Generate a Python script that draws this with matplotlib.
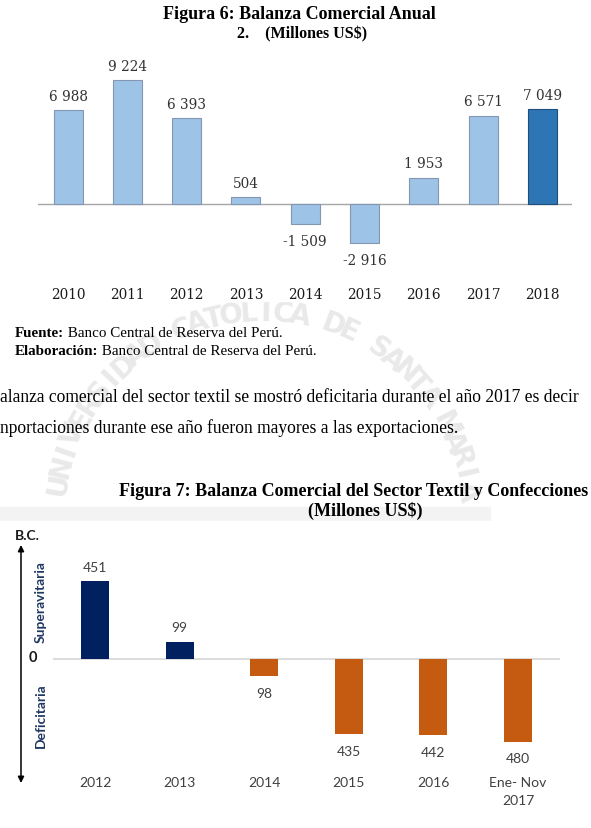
import matplotlib.pyplot as plt
from matplotlib.patches import Rectangle
import numpy as np

W, H = 591, 829

# Figura 6 data
years = ['2010', '2011', '2012', '2013', '2014', '2015', '2016', '2017', '2018']
balanza = [6988, 9224, 6393, 504, -1509, -2916, 1953, 6571, 7049]

# Figura 7 data
periodos = ['2012', '2013', '2014', '2015', '2016', 'Ene- Nov\n2017']
textil = [451, 99, -98, -435, -442, -480]

serif = 'Liberation Serif'
fig = plt.figure(figsize=(W / 100, H / 100), dpi=100)

# background axes in pixel coords (y down), used for page text and watermark
bg = fig.add_axes([0, 0, 1, 1])
bg.set_xlim(0, W)
bg.set_ylim(H, 0)
bg.axis('off')

# faint university seal watermark
wm = 'UNIVERSIDAD CATOLICA DE SANTA MARIA'
cx, cy, r = 262, 520, 207
for ch, a in zip(wm, np.linspace(170, 8, len(wm))):
    t = np.radians(a)
    bg.text(cx + r * np.cos(t), cy - r * np.sin(t), ch, rotation=a - 90,
            ha='center', va='center', fontsize=20, fontweight='bold',
            color='#e9e9e9', family='DejaVu Sans', zorder=1)
bg.add_patch(Rectangle((0, 508), 490, 14, color='#f3f3f3', zorder=1))
# chart images have white backgrounds
bg.add_patch(Rectangle((0, 0), W, 302, color='white', zorder=2))
bg.add_patch(Rectangle((0, 522), W, H - 522, color='white', zorder=2))

# ---- page text ----
bg.text(299, 14, 'Figura 6: Balanza Comercial Anual', ha='center', va='center',
        fontsize=13, fontweight='bold', family=serif, zorder=4)
bg.text(302, 34, '2.    (Millones US$)', ha='center', va='center',
        fontsize=11.5, fontweight='bold', family=serif, zorder=4)

renderer = fig.canvas.get_renderer()


def mixed(x, y, bold, rest, size):
    t = bg.text(x, y, bold, ha='left', va='center', fontsize=size,
                fontweight='bold', family=serif, zorder=4)
    w = t.get_window_extent(renderer).width
    bg.text(x + w, y, ' ' + rest, ha='left', va='center', fontsize=size,
            family=serif, zorder=4)


mixed(15, 333, 'Fuente:', 'Banco Central de Reserva del Perú.', 10.8)
mixed(15, 351, 'Elaboración:', 'Banco Central de Reserva del Perú.', 10.8)

bg.text(0, 397, 'alanza comercial del sector textil se mostró deficitaria durante el año 2017 es decir',
        ha='left', va='center', fontsize=12.65, family=serif, zorder=4)
bg.text(0, 428, 'nportaciones durante ese año fueron mayores a las exportaciones.',
        ha='left', va='center', fontsize=12.65, family=serif, zorder=4)

bg.text(354, 491, 'Figura 7: Balanza Comercial del Sector Textil y Confecciones',
        ha='center', va='center', fontsize=13, fontweight='bold', family=serif, zorder=4)
bg.text(365, 511, '(Millones US$)', ha='center', va='center',
        fontsize=13, fontweight='bold', family=serif, zorder=4)

# ---- Figura 7 side decorations ----
navy = '#1f3864'
bg.text(15, 536, 'B.C.', ha='left', va='center', fontsize=10, fontweight='bold',
        family='Lato', color='#1a1a1a', zorder=4)
bg.annotate('', xy=(21, 546), xytext=(21, 784), zorder=4,
            arrowprops=dict(arrowstyle='<|-|>', color='black', lw=1.1,
                            mutation_scale=9, shrinkA=0, shrinkB=0))
bg.text(41, 602, 'Superavitaria', rotation=90, ha='center', va='center',
        fontsize=10, fontweight='bold', family='Lato', color=navy, zorder=4)
bg.text(41, 716, 'Deficitaria', rotation=90, ha='center', va='center',
        fontsize=10, fontweight='bold', family='Lato', color=navy, zorder=4)
bg.text(33, 658, '0', ha='center', va='center', fontsize=10.5, fontweight='bold',
        family='Lato', color='#1a1a1a', zorder=4)


def axes_px(left, top, right, bottom):
    return fig.add_axes([left / W, 1 - bottom / H, (right - left) / W, (bottom - top) / H])


# ---- Figura 6 chart ----
ax1 = axes_px(38.4, 55, 572, 282)
ax1.patch.set_alpha(0)
x1 = np.arange(len(years))
colors1 = ['#9dc3e6'] * (len(years) - 1) + ['#2e75b6']
edges1 = ['#8497b0'] * (len(years) - 1) + ['#1f4e79']
ax1.bar(x1, balanza, width=0.49, color=colors1, edgecolor=edges1, linewidth=0.8, zorder=2)
ax1.axhline(0, color='#a6a6a6', lw=1, zorder=1)
ax1.set_xlim(-0.5, len(years) - 0.5)
ax1.set_ylim(-(282 - 205) * 74.5, (205 - 55) * 74.5)
for xi, v in zip(x1, balanza):
    lab = f'{v:,}'.replace(',', ' ')
    off = 10.5 if v >= 0 else -12.2
    ax1.annotate(lab, (xi, v), xytext=(0, off), textcoords='offset points',
                 ha='center', va='center', fontsize=9.8, family='DejaVu Serif', color='#333333')
ax1.set_xticks(x1)
ax1.set_xticklabels(years, fontsize=9.8, family='DejaVu Serif', color='#1a1a1a')
ax1.tick_params(length=0, pad=4.3)
ax1.set_yticks([])
for s in ax1.spines.values():
    s.set_visible(False)

# ---- Figura 7 chart ----
ax2 = axes_px(52.7, 540, 560.3, 775)
ax2.patch.set_alpha(0)
x2 = np.arange(len(periodos))
colors2 = ['#002060' if v >= 0 else '#c55a11' for v in textil]
ax2.bar(x2, textil, width=0.33, color=colors2, zorder=2)
ax2.axhline(0, color='#d9d9d9', lw=1.3, zorder=1)
ax2.set_xlim(-0.5, len(periodos) - 0.5)
ax2.set_ylim(-(775 - 660) * 5.8, (660 - 540) * 5.8)
for xi, v in zip(x2, textil):
    off = 10.5 if v >= 0 else -12
    ax2.annotate(str(abs(v)), (xi, v), xytext=(0, off), textcoords='offset points',
                 ha='center', va='center', fontsize=10, family='Lato', color='#404040')
ax2.set_xticks(x2)
ax2.set_xticklabels(periodos, fontsize=10, family='Lato', color='#404040', linespacing=1.55)
ax2.tick_params(length=0, pad=1.5)
ax2.set_yticks([])
for s in ax2.spines.values():
    s.set_visible(False)

fig.savefig('out.png', dpi=100)
